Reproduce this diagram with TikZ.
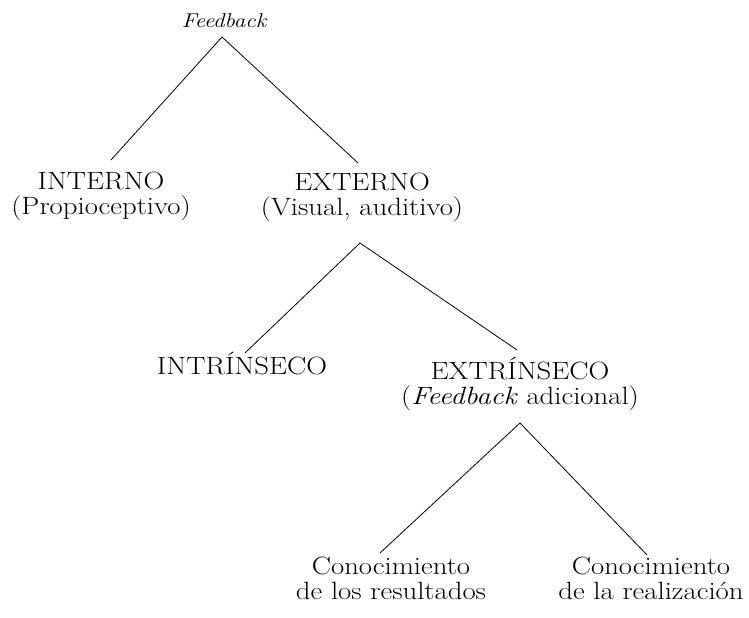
\documentclass[tikz,border=0pt]{standalone}
\usepackage{fontspec}
\setmainfont{Latin Modern Roman}[FakeStretch=1.15]
\begin{document}
\begin{tikzpicture}[>=latex,line join=bevel,
  tree/.style={draw=none,inner sep=0pt,align=center,anchor=base,
    font=\fontsize{25bp}{25bp}\selectfont},
  root/.style={draw=none,inner sep=0pt,anchor=base,
    font=\fontsize{20bp}{22bp}\selectfont\itshape},
  branch/.style={black,line width=0.8pt}]
\useasboundingbox (0bp,0bp) rectangle (749bp,618bp);
%%
\node (node_fb) at (224.0bp,590.0bp) [root] {Feedback};
  \node (node_interno) at (101.0bp,403.0bp) [tree] {INTERNO\\(Propioceptivo)};
  \node (node_externo) at (362.0bp,402.0bp) [tree] {EXTERNO\\(Visual, auditivo)};
  \node (node_intrinseco) at (242.0bp,243.0bp) [tree] {INTRÍNSECO};
  \node (node_extrinseco) at (520.0bp,213.0bp) [tree] {EXTRÍNSECO\\(\textit{Feedback} adicional)};
  \node (node_resultados) at (391.0bp,19.0bp) [tree] {Conocimiento\\de los resultados};
  \node (node_realizacion) at (651.0bp,19.0bp) [tree] {Conocimiento\\de la realización};
  \draw [branch] ([shift={(10bp,55bp)}]node_interno.base) -- ([shift={(-2bp,-9bp)}]node_fb.base) -- ([shift={(-4bp,53bp)}]node_externo.base);
  \draw [branch] ([shift={(3bp,22bp)}]node_intrinseco.base) -- ([shift={(-2bp,-27bp)}]node_externo.base) -- ([shift={(-3bp,55bp)}]node_extrinseco.base);
  \draw [branch] ([shift={(-11bp,46bp)}]node_resultados.base) -- ([shift={(0bp,-18bp)}]node_extrinseco.base) -- ([shift={(-4bp,44bp)}]node_realizacion.base);
%
\end{tikzpicture}
\end{document}
